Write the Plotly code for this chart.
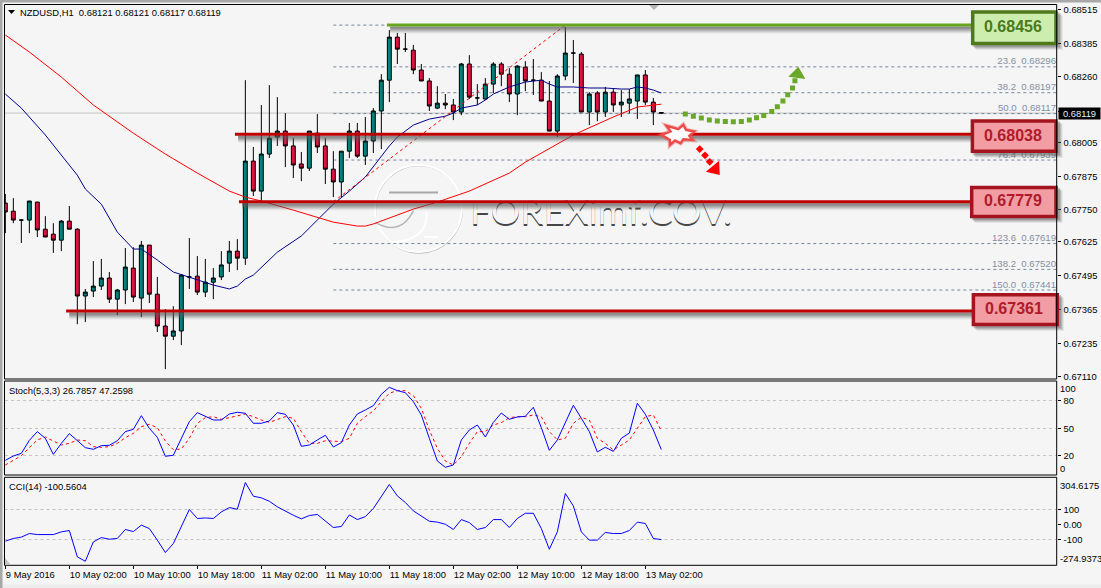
import plotly.graph_objects as go

W, H = 1101, 588

# Hourly NZDUSD candles, prices in points (1e-5)
opens_pts = [67774,67743,67709,67709,67778,67674,67655,67632,67705,67674,
67418,67437,67456,67487,67406,67441,67525,67410,67613,67425,
67303,67264,67284,67491,67494,67433,67471,67491,67544,67590,
67563,67935,67820,67962,68027,68050,67993,67924,67908,68042,
67993,67904,67855,67973,68050,67954,68012,68127,68245,68410,
68364,68360,68284,68242,68138,68157,68150,68123,68307,68177,
68173,68230,68307,68268,68192,68295,68245,68245,68165,68050,
68261,68349,68345,68123,68196,68123,68199,68150,68157,68165,
68265,68161,68121]
highs_pts = [67809,67793,67713,67782,67778,67724,67697,67709,67763,67678,
67445,67552,67560,67510,67445,67602,67605,67629,67613,67491,
67368,67379,67502,67640,67571,67560,67525,67590,67629,67636,
68245,67989,68150,68226,68180,68119,68023,67970,68050,68115,
68023,67973,67973,68081,68081,68104,68138,68268,68437,68426,
68426,68380,68307,68253,68222,68192,68173,68311,68341,68230,
68253,68314,68314,68291,68303,68318,68326,68276,68242,68268,
68449,68399,68353,68199,68203,68219,68211,68207,68211,68265,
68284,68177,68121]
lows_pts = [67659,67697,67621,67659,67644,67644,67583,67590,67674,67310,
67318,67414,67441,67391,67345,67387,67395,67337,67391,67280,
67138,67249,67230,67445,67422,67414,67406,67479,67510,67517,
67537,67801,67782,67947,67993,67912,67870,67858,67897,67966,
67847,67797,67797,67947,67947,67920,67966,67981,68161,68307,
68353,68268,68242,68127,68134,68134,68092,68111,68173,68150,
68169,68196,68222,68161,68111,68203,68188,68165,68050,68027,
68245,68234,68123,68073,68088,68104,68123,68104,68119,68096,
68150,68073,68117]
closes_pts = [67740,67709,67709,67782,67671,67644,67632,67705,67674,67418,
67433,67456,67487,67406,67441,67529,67414,67613,67425,67303,
67264,67284,67498,67491,67433,67471,67487,67537,67590,67563,
67935,67820,67962,68023,68050,67993,67920,67908,68050,67989,
67904,67855,67973,68050,67954,68012,68127,68245,68410,68364,
68364,68284,68242,68146,68157,68150,68123,68307,68180,68177,
68230,68307,68268,68192,68299,68242,68245,68165,68050,68261,
68349,68349,68123,68192,68123,68199,68150,68161,68173,68265,
68161,68123,68119]

# Moving averages, sampled at selected bars
fast_ma_bars = [0,2,5,9,10,12,14,16,17,19,21,23,26,28,29,30,31,34,37,39,41,43,45,48,49,51,53,55,56,57,
                59,60,61,63,65,67,68,69,71,73,75,77,78,79,80,81,82]
fast_ma_pts = [68192,68138,68035,67881,67828,67770,67663,67598,67598,67556,67510,67491,67460,67445,67456,
               67483,67498,67586,67648,67709,67770,67820,67874,67993,68027,68073,68096,68107,68119,68138,
               68150,68169,68192,68219,68238,68245,68230,68219,68219,68215,68215,68211,68211,68219,68215,68207,68196]
slow_ma_bars = [0,3,7,11,16,20,24,28,30,32,36,41,44,45,46,51,54,58,63,65,71,76,79,81,82]
slow_ma_pts = [68418,68353,68257,68150,68042,67962,67889,67820,67797,67782,67747,67701,67686,67686,67694,
               67751,67778,67820,67889,67931,68035,68104,68142,68150,68153]

# Stochastic oscillator (5,3,3)
stoch_main = [15.1,19.8,22.7,36.9,46.4,39.1,21.6,33.6,44.2,36.9,28.9,27.1,31.1,31.5,36.5,46.4,48.9,63.8,50,40.2,
19.5,20.6,39.1,57.3,67.1,62.7,59.1,59.1,65.6,67.5,66.4,55.5,55.5,58,67.1,65.3,53.6,30.4,31.8,37.3,
42.4,29.6,34.4,53.6,65.6,70,74.7,87.1,94.7,91.1,88.9,79.1,64.5,39.1,14.4,7.5,10,37.3,48.2,53.6,
40.5,56.5,66.7,59.8,62.4,63.1,72.9,50.7,26,37.3,55.5,75.1,60.9,46.4,24.2,29.3,24.9,39.1,44.9,77.3,
65.3,48.2,26.7857]
stoch_signal = [10,15.5,20.2,28.9,37.3,40.5,36.2,31.8,33.6,37.3,36.5,30,29.3,30,33.6,39.8,44.5,51.8,54.4,50.7,
36.2,26.7,27.5,39.1,55.5,61.6,62.7,59.8,61.6,63.8,65.6,62.7,59.1,56.5,59.8,62.7,60.9,46.4,33.6,33.6,
36.5,36.2,35.5,39.1,55.5,62.7,68.9,79.1,88.2,91.1,91.1,85.6,71.8,48.2,28.2,14.4,10,19.1,33.6,46.4,
46.4,53.6,56.2,61.6,62.7,62.7,64.5,62.7,46.4,37.3,39.1,55.5,62,59.1,39.1,33.6,26.4,31.8,37.3,50,
62.7,64.5,47.2598]

# Commodity channel index (14)
cci_values = [-111,-93,-84,-60,-67,-67,-67,-49,-40,-216,-245,-116,-87,-98,-93,-33,-47,-4,-27,-104,
-187,-127,-16,100,40,44,40,84,113,102,280,189,178,155,118,89,62,38,60,67,
22,-20,-13,64,33,53,107,191,267,191,147,91,58,22,16,2,-33,33,13,-33,
-20,33,33,-20,40,75,75,-27,-165,-49,207,124,-49,-104,-104,-53,-60,-60,-40,16,
7,-93,-100.5604]

# Labelled support and resistance levels
level_prices = [0.68456, 0.68038, 0.67779, 0.67361]
level_first_bar = [47.7, 28.7, 29.2, 7.6]
level_labels = ["0.68456", "0.68038", "0.67779", "0.67361"]

# Fibonacci retracement between the swing low and swing high
fib_low_bar, fib_high_bar = 41, 70
fib_prices = [0.68456, 0.68296, 0.68197, 0.68117, 0.68038, 0.67939, 0.67779, 0.67619, 0.67520, 0.67441]
# Captions that are not tucked behind a level box
fib_caption_percent = ["23.6", "38.2", "50.0", "76.4", "123.6", "138.2", "150.0"]
fib_caption_prices = [0.68296, 0.68197, 0.68117, 0.67939, 0.67619, 0.67520, 0.67441]

# Bullish and bearish scenario paths
up_path_bars = [85,86,87,88,89,90,91,92,93,93.9,94.8,95.8,96.5,97.2,97.8,98.4,98.7]
up_path_pts = [68115,68107,68100,68092,68089,68087,68086,68087,68092,68101,68110,68125,68143,68165,68189,68215,68243]
up_tip_bar, up_tip_pts = 99.0, 68268
down_path_bars = [86.8, 87.46, 88.05]
down_path_pts = [67981, 67957, 67932]
down_tip_bar, down_tip_pts = 88.7, 67904

last_price = 0.68119
quote_header = "NZDUSD,H1\u00a0\u00a00.68121 0.68121 0.68117 0.68119"

time_tick_bars = [0, 8, 16, 24, 32, 40, 48, 56, 64, 72, 80]
time_tick_text = ["9 May 2016", "10 May 02:00", "10 May 10:00", "10 May 18:00", "11 May 02:00", "11 May 10:00",
                  "11 May 18:00", "12 May 02:00", "12 May 10:00", "12 May 18:00", "13 May 02:00"]
price_ticks = [0.68515, 0.68385, 0.68260, 0.68125, 0.68005, 0.67875, 0.67750, 0.67625, 0.67495, 0.67365, 0.67235, 0.67110]

BG = "#f5f5f5"
TEAL = "#008080"
CRIMSON = "#dc143c"
TICK_FONT = dict(family="Liberation Sans", size=9.4, color="#000000")
BAR_STEP, BAR_ORIGIN = 8.0, 5.33


def pts(values):
    return [v / 1e5 for v in values]


def fx(px):
    return px / W


def fy(py):
    return 1 - py / H


def bar_at(px):
    return (px - BAR_ORIGIN) / BAR_STEP


bars = list(range(len(opens_pts)))
fig = go.Figure()

# Embossed broker watermark: background-coloured glyphs over a soft lower shadow
fig.add_trace(go.Scatter(x=[bar_at(470)], y=[0.67728], mode="text", text=["FOREXimf.COV."], textposition="middle right",
                         textfont=dict(family="Lato", size=37, color=BG, shadow="0px 2px 0.5px rgba(70,70,70,1)"),
                         hoverinfo="skip", showlegend=False))

fig.add_trace(go.Candlestick(
    x=bars, open=pts(opens_pts), high=pts(highs_pts), low=pts(lows_pts), close=pts(closes_pts),
    increasing=dict(fillcolor=TEAL, line=dict(color="#000000", width=1)),
    decreasing=dict(fillcolor=CRIMSON, line=dict(color="#000000", width=1)),
    whiskerwidth=0, showlegend=False, xaxis="x", yaxis="y"))

fig.add_trace(go.Scatter(x=fast_ma_bars, y=pts(fast_ma_pts), mode="lines", line=dict(color="#00008b", width=1), showlegend=False))
fig.add_trace(go.Scatter(x=slow_ma_bars, y=pts(slow_ma_pts), mode="lines", line=dict(color="#ff0000", width=1), showlegend=False))
fig.add_trace(go.Scatter(x=[fib_low_bar, fib_high_bar], y=[fib_prices[6], fib_prices[0]], mode="lines",
                         line=dict(color="#ff0000", width=1, dash="3px,3px"), showlegend=False))

# Fibonacci level captions sit just above their dashed lines
fig.add_trace(go.Scatter(x=[bar_at(1056)] * len(fib_caption_prices), y=fib_caption_prices, mode="text",
                         text=[f"{p}\u00a0\u00a0{v:.5f}" for p, v in zip(fib_caption_percent, fib_caption_prices)],
                         textposition="top left", textfont=dict(family="Liberation Sans", size=9.6, color="#7f90a5"),
                         hoverinfo="skip", showlegend=False))

# Scenario arrows
GREEN = "#6aa82a"
fig.add_trace(go.Scatter(x=up_path_bars, y=pts(up_path_pts), mode="markers",
                         marker=dict(symbol="square", size=5, color=GREEN), showlegend=False))
fig.add_trace(go.Scatter(x=[up_tip_bar], y=pts([up_tip_pts]), mode="markers",
                         marker=dict(symbol="triangle-up", size=15, color=GREEN, angle=8), showlegend=False))
fig.add_trace(go.Scatter(x=down_path_bars, y=pts(down_path_pts), mode="markers",
                         marker=dict(symbol="diamond", size=6, color="#ff0000"), showlegend=False))
fig.add_trace(go.Scatter(x=[down_tip_bar], y=pts([down_tip_pts]), mode="markers",
                         marker=dict(symbol="triangle-up", size=15, color="#ff0000", angle=140), showlegend=False))

# Indicator panels
fig.add_trace(go.Scatter(x=bars, y=stoch_signal, mode="lines", line=dict(color="#ff0000", width=1, dash="3px,3px"),
                         showlegend=False, xaxis="x", yaxis="y2"))
fig.add_trace(go.Scatter(x=bars, y=stoch_main, mode="lines", line=dict(color="#0000ff", width=1),
                         showlegend=False, xaxis="x", yaxis="y2"))
fig.add_trace(go.Scatter(x=bars, y=cci_values, mode="lines", line=dict(color="#0000ff", width=1),
                         showlegend=False, xaxis="x", yaxis="y3"))

shapes = []
annotations = []


def paper_rect(x0, y0, x1, y1, fill=None, line=None, width=1, layer="above"):
    shapes.append(dict(type="rect", xref="paper", yref="paper", x0=fx(x0), x1=fx(x1), y0=fy(y0), y1=fy(y1),
                       fillcolor=fill, line=dict(color=line, width=width if line else 0), layer=layer))


def paper_tri(p1, p2, p3, fill):
    path = "M{},{} L{},{} L{},{} Z".format(fx(p1[0]), fy(p1[1]), fx(p2[0]), fy(p2[1]), fx(p3[0]), fy(p3[1]))
    shapes.append(dict(type="path", xref="paper", yref="paper", path=path, fillcolor=fill, line=dict(width=0), layer="above"))


# Window edge and panel frames
paper_rect(0, 584.5, W, H, fill="#ececec", layer="below")
paper_rect(0, 0, W, 2.5, fill="#a8a8a8", layer="below")
paper_rect(0, 0, 2.5, H, fill="#a8a8a8", layer="below")

# Watermark logo behind the price action
logo_bar, logo_price = bar_at(418.5), 0.67753
logo = dict(xref="x", yref="y", xsizemode="pixel", ysizemode="pixel", xanchor=logo_bar, yanchor=logo_price, layer="below")
shapes.append(dict(type="circle", x0=-43, x1=44, y0=-44.5, y1=43, line=dict(color="#b8b8b8", width=1.2), **logo))
shapes.append(dict(type="circle", x0=-43.5, x1=43.5, y0=-43.5, y1=43.5, line=dict(color="#ffffff", width=2), **logo))
shapes.append(dict(type="rect", x0=-29.5, x1=19.5, y0=15, y1=17, fillcolor="#a8a8a8", line=dict(width=0), **logo))
shapes.append(dict(type="path", path="M-43,-14 Q-18,-28 -5,-2", line=dict(color="#b5b5b5", width=1.5), **logo))
shapes.append(dict(type="path", path="M-28,-34 Q10,-32 8,-4", line=dict(color="#ffffff", width=2), **logo))
shapes.append(dict(type="rect", x0=6, x1=20, y0=-29.5, y1=-27.5, fillcolor="#ffffff", line=dict(width=0), **logo))

# Bid price line and Fibonacci levels under the candles
shapes.append(dict(type="line", xref="paper", yref="y", x0=fx(4.5), x1=fx(1056.7), y0=last_price, y1=last_price,
                   line=dict(color="#c4c4c4", width=1), layer="below"))
for price in fib_prices:
    shapes.append(dict(type="line", xref="x", yref="y", x0=fib_low_bar, x1=bar_at(1056.7), y0=price, y1=price,
                       line=dict(color="#76869f", width=1, dash="3px,3px"), layer="below"))

# Level lines with soft drop shadows, then their boxed captions
box_left_bar = bar_at(972)
box_extent = [(14.7, -20.0), (15.0, -18.7), (16.0, -16.3), (17.8, -15.2)]
box_sides = [(971, 1057.7), (970.7, 1057.7), (970, 1057.7), (971.7, 1059)]
box_fill = ["#cdedae", "#f29ca3", "#f29ca3", "#f29ca3"]
box_edge = ["#4f7a1c", "#a3141f", "#a3141f", "#a3141f"]
box_text = ["#4b7a1c", "#b01a2a", "#b01a2a", "#b01a2a"]
line_color = ["#66a61e", "#c00000", "#c00000", "#c00000"]
shadow_depths = [(8.5, 0.08), (7.5, 0.12), (6.5, 0.16), (5.5, 0.2), (4.5, 0.22), (3.5, 0.22)]
for k, price in enumerate(level_prices):
    anchor = dict(yref="y", ysizemode="pixel", yanchor=price, layer="above")
    for depth, alpha in shadow_depths:
        shapes.append(dict(type="rect", xref="x", x0=level_first_bar[k] + 0.4, x1=box_left_bar,
                           y0=-depth, y1=-1.5, fillcolor=f"rgba(90,90,90,{alpha})", line=dict(width=0), **anchor))
    shapes.append(dict(type="rect", xref="x", x0=level_first_bar[k], x1=box_left_bar, y0=-1.5, y1=1.5,
                       fillcolor=line_color[k], line=dict(width=0), **anchor))
    top, bottom = box_extent[k]
    left, right = box_sides[k]
    for grow, alpha in [(5, 0.10), (4, 0.16), (3, 0.22), (2, 0.28)]:
        shapes.append(dict(type="rect", xref="paper", x0=fx(left + grow), x1=fx(right + grow),
                           y0=bottom - grow, y1=top - grow, fillcolor=f"rgba(90,90,90,{alpha})", line=dict(width=0), **anchor))
    shapes.append(dict(type="rect", xref="paper", x0=fx(left + 1.7), x1=fx(right - 1.7), y0=bottom + 1.7, y1=top - 1.7,
                       fillcolor=box_fill[k], line=dict(color=box_edge[k], width=3.5), **anchor))
    annotations.append(dict(xref="paper", yref="y", x=fx((left + right) / 2 - 1), y=price, xanchor="center",
                            yshift=(top + bottom) / 2 + 1, text=level_labels[k], showarrow=False,
                            font=dict(family="Liberation Sans", size=16, color=box_text[k], weight="bold")))

# Breakout burst on the 0.68038 level
burst = "M-16.7,-0.7 L-7.7,2.7 L-11.7,8.3 L0,5 L5,9.3 L7.7,4.3 L15.7,2.7 L11,-1.7 L14.3,-5.7 L5,-5 L2.3,-9 L-3.3,-6.3 L-8.3,-10.7 L-8.3,-5.7 Z"
burst_anchor = dict(xref="x", yref="y", xsizemode="pixel", ysizemode="pixel", xanchor=bar_at(678.3), yanchor=level_prices[1], layer="above")
shapes.append(dict(type="path", path=burst, line=dict(color="rgba(235,70,70,0.35)", width=4.5), **burst_anchor))
shapes.append(dict(type="path", path=burst, fillcolor="#ffffff", line=dict(color="#ee4a4a", width=2.4), **burst_anchor))

# Frames and small glyphs
for top, bottom in [(4.5, 379), (381, 475), (477.3, 565.3)]:
    paper_rect(4.5, top, 1056.7, bottom, line="#000000")
paper_tri((8, 10), (15, 10), (11.5, 14), "#000000")
paper_tri((649, 5), (659, 5), (654, 10), "#b4b4b4")
paper_tri((5, 558), (5, 565), (11, 565), "#c4c4c4")

# Live price flag on the scale
annotations.append(dict(xref="paper", yref="y", x=fx(1057.5), y=last_price, xanchor="left", text=f"{last_price:.5f}",
                        showarrow=False, bgcolor="#000000", width=41, height=11, borderpad=0, align="center",
                        font=dict(family="Liberation Sans", size=9.4, color="#dff0ff")))


def note(x, y, text, anchor="left"):
    annotations.append(dict(xref="paper", yref="paper", x=fx(x), y=fy(y), xanchor=anchor, yanchor="middle",
                            text=text, showarrow=False, font=TICK_FONT, borderpad=0))


note(18.5, 12.5, quote_header)
note(7.5, 390.5, "Stoch(5,3,3) 26.7857 47.2598")
note(7.5, 486.5, "CCI(14) -100.5604")
note(1058.5, 388, "100")
note(1058.5, 468, "0")
note(1058.5, 485, "304.6175")
note(1058.5, 558.7, "-274.9373")

axis_base = dict(showline=False, zeroline=False, side="right", anchor="x", ticks="outside", ticklen=3,
                 tickcolor="#000000", tickfont=TICK_FONT, ticklabelstandoff=1, showgrid=False, automargin=False)
fig.update_layout(
    width=W, height=H, margin=dict(l=0, r=0, t=0, b=0, autoexpand=False), autosize=False,
    paper_bgcolor=BG, plot_bgcolor=BG, showlegend=False, hovermode=False, boxgap=0.3,
    shapes=shapes, annotations=annotations,
    xaxis=dict(domain=[fx(4.5), fx(1056.7)], range=[bar_at(4.5), bar_at(1056.7)], anchor="y3", showgrid=False,
               zeroline=False, rangeslider=dict(visible=False), tickmode="array", tickvals=time_tick_bars,
               ticktext=time_tick_text, ticks="outside", ticklen=3, tickcolor="#000000", tickfont=TICK_FONT,
               ticklabelposition="outside right", tickangle=0, automargin=False),
    yaxis=dict(domain=[fy(379), fy(4.5)], range=[0.67100, 0.68535], tickmode="array", tickvals=price_ticks,
               ticktext=[f"{v:.5f}" for v in price_ticks], **axis_base),
    yaxis2=dict(domain=[fy(475), fy(381)], range=[-0.9, 101.6], tickmode="array", tickvals=[20, 50, 80],
                ticktext=["20", "50", "80"], **{**axis_base, "showgrid": True}, gridcolor="#c4c4c4", griddash="3px,3px", gridwidth=1),
    yaxis3=dict(domain=[fy(565.3), fy(477.3)], range=[-272, 315], tickmode="array", tickvals=[-100, 0, 100],
                ticktext=["-100", "0.00", "100"], **axis_base),
)
# Only the +/-100 CCI levels carry a dashed guide
for level in (100, -100):
    fig.add_shape(type="line", xref="x", yref="y3", x0=bar_at(4.5), x1=bar_at(1056.7), y0=level, y1=level,
                  line=dict(color="#c4c4c4", width=1, dash="3px,3px"), layer="below")

fig.write_html("out.html")
